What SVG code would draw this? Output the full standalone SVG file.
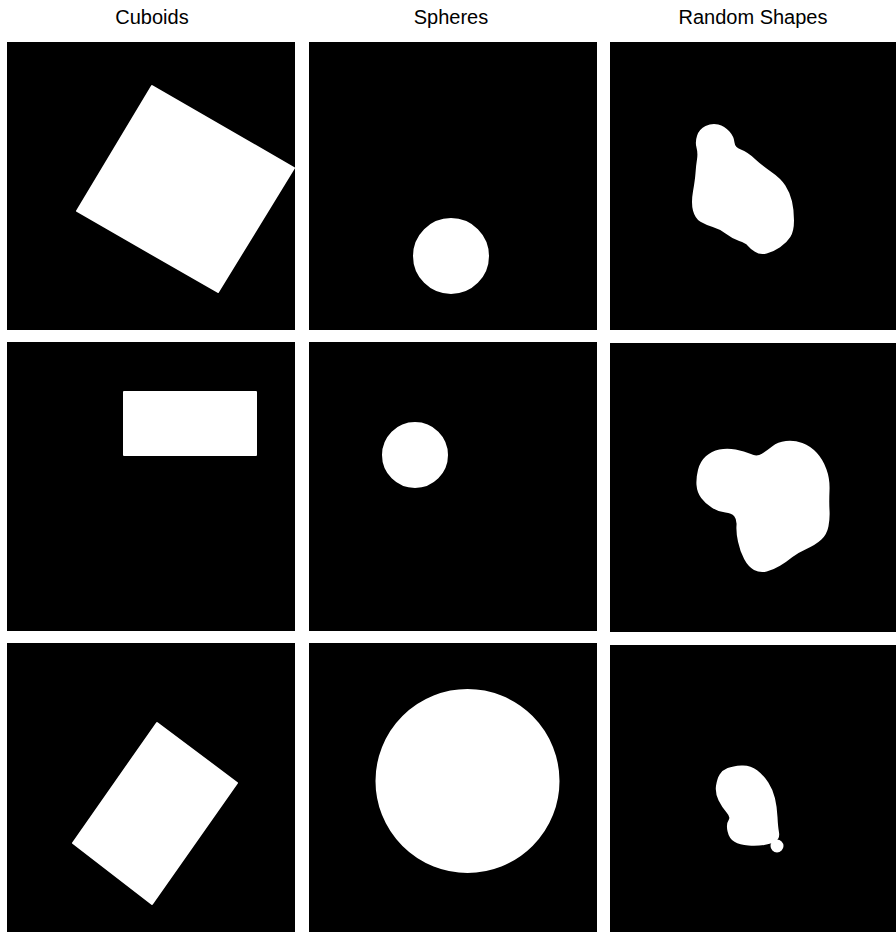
<svg xmlns="http://www.w3.org/2000/svg" width="896" height="932" viewBox="0 0 896 932">
<style>
.t{font-family:"Liberation Sans",Arial,sans-serif;font-size:20px;fill:#000;text-anchor:middle}
.p{fill:#000}
.s{fill:#fff;stroke:#fff;stroke-width:2;stroke-linejoin:round}
</style>
<rect width="896" height="932" fill="#fff"/>
<g id="titles">
<text class="t" x="152" y="24">Cuboids</text>
<text class="t" x="451" y="24">Spheres</text>
<text class="t" x="753" y="24">Random Shapes</text>
</g>
<g id="cuboid1"><rect class="p" x="7" y="42" width="288" height="288"/><polygon class="s" points="152,86 294,168 218,292 77,211"/></g>
<g id="sphere1"><rect class="p" x="309" y="42" width="288" height="288"/><circle class="s" cx="451" cy="256" r="37"/></g>
<g id="random1"><rect class="p" x="610" y="42" width="286" height="288"/>
<path class="s" d="M698,136 Q700,130 706,127 Q712,124 718,125.5 Q724,127 728.5,132 Q733,137 733.5,142.5 Q734,148 740.5,150.5 Q747,153 754,159.5 Q761,166 770.5,172.5 Q780,179 784.5,186 Q789,193 791,201.5 Q793,210 793,220.5 Q793,231 789.5,236.5 Q786,242 779.5,246.5 Q773,251 766.5,252.5 Q760,254 755.5,251 Q751,248 748.5,245 Q746,242 739.5,240 Q733,238 726.5,233 Q720,228 713,226 Q706,224 701,221 Q696,218 694,210.5 Q692,203 694,191.5 Q696,180 696.5,173 Q697,166 698,159.5 Q699,153 697.5,147.5 Q696,142 698,136 Z"/></g>
<g id="cuboid2"><rect class="p" x="7" y="342" width="288" height="289"/><rect class="s" x="124" y="392" width="132" height="63"/></g>
<g id="sphere2"><rect class="p" x="309" y="342" width="288" height="289"/><circle class="s" cx="415" cy="455" r="32"/></g>
<g id="random2"><rect class="p" x="610" y="343" width="286" height="289"/>
<path class="s" d="M697.5,485 Q697,478 699,470 Q701,462 706.5,457 Q712,452 719.5,450.5 Q727,449 735.5,450.5 Q744,452 750.5,455 Q757,458 762.5,454.5 Q768,451 773,447 Q778,443 786,442 Q794,441 802,444 Q810,447 816,453.5 Q822,460 825.5,469.5 Q829,479 828.5,490.5 Q828,502 828.5,510 Q829,518 827.5,526 Q826,534 820.5,539 Q815,544 806,548 Q797,552 791.5,556.5 Q786,561 779.5,565 Q773,569 766.5,570.5 Q760,572 754.5,569 Q749,566 745,558.5 Q741,551 739,541.5 Q737,532 737.5,525.5 Q738,519 735,515.5 Q732,512 725.5,511.5 Q719,511 712.5,507 Q706,503 702,497.5 Q698,492 697.5,485 Z"/></g>
<g id="cuboid3"><rect class="p" x="7" y="643" width="288" height="289"/><polygon class="s" points="157,723 237,783 152,904 73,843"/></g>
<g id="sphere3"><rect class="p" x="309" y="643" width="288" height="289"/><circle class="s" cx="467.5" cy="781" r="91"/></g>
<g id="random3"><rect class="p" x="610" y="645" width="286" height="287"/>
<path class="s" d="M717,786 Q718,779 720.5,775 Q723,771 728,769 Q733,767 741.5,766.5 Q750,766 756.5,771 Q763,776 767.5,783 Q772,790 774,798.5 Q776,807 776.5,817 Q777,827 778,832.5 Q779,838 775,840.5 Q771,843 764,844 Q757,845 748.5,844.5 Q740,844 735,841 Q730,838 728.5,831 Q727,824 729.5,820.5 Q732,817 727.5,812 Q723,807 719.5,800 Q716,793 717,786 Z"/>
<circle class="s" cx="777" cy="846" r="5.5"/></g>
</svg>
